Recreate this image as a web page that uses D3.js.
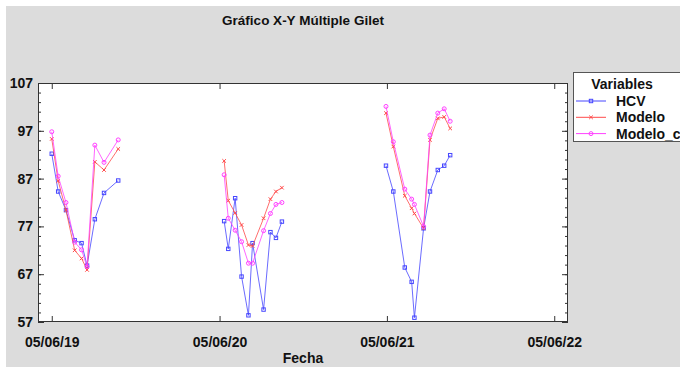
<!DOCTYPE html>
<html>
<head>
<meta charset="utf-8">
<script src="https://cdnjs.cloudflare.com/ajax/libs/d3/7.8.5/d3.min.js"></script>
<style>
  body { margin: 0; background: #fff; }
  svg text { font-family: "Liberation Sans", Arial, sans-serif; font-weight: bold; fill: #111; }
</style>
</head>
<body>
<div id="chart"></div>
<script>
// sampling dates (dd/mm/yy), three campaigns
const fechas = [
    '05/06/19', '19/06/19', '06/07/19', '25/07/19', '09/08/19', '21/08/19', '07/09/19', '27/09/19', '28/10/19',
    '15/06/20', '24/06/20', '09/07/20', '23/07/20', '07/08/20', '16/08/20', '09/09/20', '24/09/20', '06/10/20', '19/10/20',
    '03/06/21', '19/06/21', '14/07/21', '29/07/21', '04/08/21', '24/08/21', '07/09/21', '24/09/21', '08/10/21', '21/10/21'
];

const hcv = [
    92.2, 84.3, 80.4, 74.1, 73.5, 68.8, 78.5, 84.0, 86.6,
    78.1, 72.3, 82.9, 66.5, 58.4, 73.5, 59.6, 75.8, 74.6, 78.0,
    89.7, 84.3, 68.4, 65.4, 57.9, 76.6, 84.3, 88.8, 89.7, 91.9
];

const modelo = [
    95.3, 86.5, 80.4, 72.0, 70.3, 67.9, 90.5, 88.8, 93.2,
    90.7, 82.4, 79.8, 77.3, 73.1, 72.9, 78.7, 82.7, 84.3, 85.1,
    100.7, 93.7, 83.4, 80.8, 79.7, 76.6, 95.1, 99.6, 99.9, 97.5
];

const modeloC = [
    96.8, 87.5, 82.0, 73.7, 72.1, 68.6, 94.0, 90.4, 95.1,
    87.8, 78.7, 76.2, 73.8, 69.3, 69.3, 76.1, 79.7, 81.6, 82.0,
    102.1, 94.7, 84.8, 82.7, 81.6, 77.0, 96.1, 100.7, 101.6, 99.0
];

const xTickLabels = ['05/06/19', '05/06/20', '05/06/21', '05/06/22'];
const yTicks = [57, 67, 77, 87, 97, 107];
const seriesNames = ['HCV', 'Modelo', 'Modelo_c'];

/**
 * Multiple X-Y chart, statgraphics look
 *
 * @class XYMultipleChart
 */
class XYMultipleChart {

    constructor(containerId) {
        this.width = 680;
        this.height = 367;
        this.plot = {left: 38, right: 568, top: 83, bottom: 322};
        this.parse = d3.timeParse('%d/%m/%y');
        this.svg = d3.select(`#${containerId}`).append('svg')
            .attr('width', this.width)
            .attr('height', this.height);
    }

    draw() {
        const svg = this.svg;
        const p = this.plot;

        svg.append('rect')
            .attr('x', 6).attr('y', 6)
            .attr('width', this.width - 6).attr('height', this.height - 6)
            .attr('fill', '#dcdcdc');

        svg.append('rect')
            .attr('x', p.left).attr('y', p.top)
            .attr('width', p.right - p.left).attr('height', p.bottom - p.top)
            .attr('fill', '#fff');

        this.x = d3.scaleTime()
            .domain([this.parse('06/05/19'), this.parse('05/07/22')])
            .range([p.left, p.right]);
        this.y = d3.scaleLinear()
            .domain([57, 107])
            .range([p.bottom, p.top]);

        this.drawAxes();
        this.drawSeries();
        this.drawLegend();

        svg.append('text')
            .attr('x', 303).attr('y', 25)
            .attr('text-anchor', 'middle')
            .attr('font-size', 13.5)
            .text('Gráfico X-Y Múltiple Gilet');
    }

    drawAxes() {
        const svg = this.svg;
        const p = this.plot;
        const xTicks = xTickLabels.map(this.parse);
        const fmt = d3.timeFormat('%d/%m/%y');
        const minor = d3.range(57, 107.1, 2);

        const style = g => {
            g.select('.domain').remove();
            g.selectAll('line').attr('stroke', '#333');
            g.selectAll('text').attr('font-size', 14).attr('fill', '#111')
                .attr('font-family', '"Liberation Sans", Arial, sans-serif');
        };

        // bottom / top
        svg.append('g')
            .attr('transform', `translate(0,${p.bottom})`)
            .call(d3.axisBottom(this.x).tickValues(xTicks).tickFormat(fmt).tickSize(-6).tickPadding(15))
            .call(style);
        svg.append('g')
            .attr('transform', `translate(0,${p.top})`)
            .call(d3.axisTop(this.x).tickValues(xTicks).tickFormat('').tickSize(-6))
            .call(style);

        // left / right with minor ticks
        svg.append('g')
            .attr('transform', `translate(${p.left},0)`)
            .call(d3.axisLeft(this.y).tickValues(minor).tickFormat('').tickSize(-3))
            .call(style);
        svg.append('g')
            .attr('transform', `translate(${p.left},0)`)
            .call(d3.axisLeft(this.y).tickValues(yTicks).tickFormat(d3.format('d')).tickSize(-6).tickPadding(5))
            .call(style);
        svg.append('g')
            .attr('transform', `translate(${p.right},0)`)
            .call(d3.axisRight(this.y).tickValues(minor).tickFormat('').tickSize(-3))
            .call(style);
        svg.append('g')
            .attr('transform', `translate(${p.right},0)`)
            .call(d3.axisRight(this.y).tickValues(yTicks).tickFormat('').tickSize(-6))
            .call(style);

        svg.append('rect')
            .attr('x', p.left + 0.5).attr('y', p.top + 0.5)
            .attr('width', p.right - p.left - 1).attr('height', p.bottom - p.top - 1)
            .attr('fill', 'none')
            .attr('stroke', '#333');

        svg.append('text')
            .attr('x', 303).attr('y', 363)
            .attr('text-anchor', 'middle')
            .attr('font-size', 14)
            .text('Fecha');
    }

    /**
     * Marker path for a series type
     */
    marker(g, type, color) {
        if (type === 'square') {
            g.append('rect')
                .attr('x', -1.7).attr('y', -1.7).attr('width', 3.4).attr('height', 3.4)
                .attr('fill', 'none').attr('stroke', color);
        } else if (type === 'cross') {
            g.append('path')
                .attr('d', 'M-1.8,-1.8L1.8,1.8M-1.8,1.8L1.8,-1.8')
                .attr('stroke', color);
        } else {
            g.append('circle')
                .attr('r', 2)
                .attr('fill', 'none').attr('stroke', color);
        }
    }

    getSeries() {
        const dates = fechas.map(this.parse);
        const defs = [
            {name: seriesNames[0], values: hcv, color: '#4646ff', marker: 'square'},
            {name: seriesNames[1], values: modelo, color: '#ff4a4a', marker: 'cross'},
            {name: seriesNames[2], values: modeloC, color: '#ff40ff', marker: 'circle'}
        ];
        return defs.map(s => ({
            ...s,
            points: s.values.map((v, i) => ({date: dates[i], value: v}))
        }));
    }

    drawSeries() {
        const line = d3.line()
            .x(d => this.x(d.date))
            .y(d => this.y(d.value));

        this.getSeries().forEach(s => {
            const g = this.svg.append('g');
            // campaigns are not joined
            const groups = d3.groups(s.points, d => d.date.getFullYear());
            groups.forEach(([, pts]) => {
                g.append('path')
                    .attr('d', line(pts))
                    .attr('fill', 'none')
                    .attr('stroke', s.color)
                    .attr('stroke-opacity', 0.8)
                    .attr('stroke-width', 1);
            });
            g.selectAll('.pt')
                .data(s.points)
                .join('g')
                .attr('class', 'pt')
                .attr('transform', d => `translate(${this.x(d.date)},${this.y(d.value)})`)
                .each((d, i, nodes) => this.marker(d3.select(nodes[i]), s.marker, s.color));
        });
    }

    drawLegend() {
        const svg = this.svg;
        const lg = svg.append('g').attr('transform', 'translate(573,72)');

        lg.append('rect')
            .attr('x', 0.5).attr('y', 0.5)
            .attr('width', 120).attr('height', 69)
            .attr('fill', '#fff')
            .attr('stroke', '#555');

        lg.append('text')
            .attr('x', 49).attr('y', 17)
            .attr('text-anchor', 'middle')
            .attr('font-size', 14)
            .text('Variables');

        this.getSeries().forEach((s, i) => {
            const cy = 29 + i * 16.3;
            lg.append('line')
                .attr('x1', 3).attr('x2', 33)
                .attr('y1', cy).attr('y2', cy)
                .attr('stroke', s.color);
            const m = lg.append('g').attr('transform', `translate(18,${cy})`);
            this.marker(m, s.marker, s.color);
            lg.append('text')
                .attr('x', 43).attr('y', cy + 5)
                .attr('font-size', 14)
                .text(s.name);
        });
    }
}

new XYMultipleChart('chart').draw();
</script>
</body>
</html>
